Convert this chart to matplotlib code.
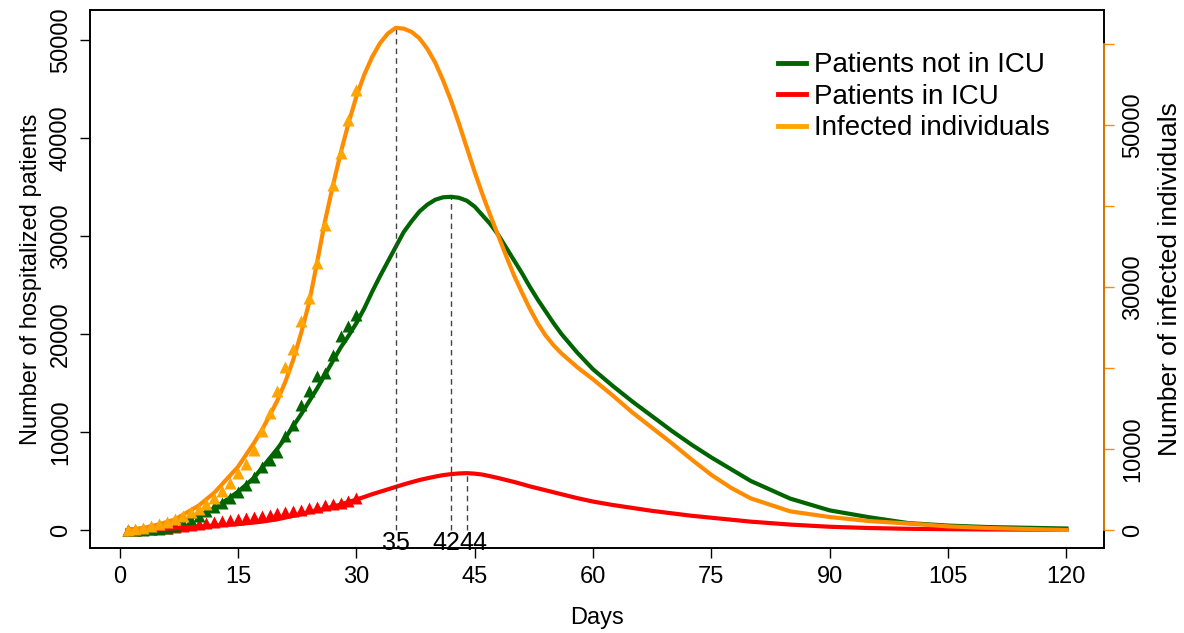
import matplotlib
matplotlib.use('Agg')
import matplotlib.pyplot as plt
from matplotlib.lines import Line2D

plt.rcParams['font.family'] = ['Liberation Sans', 'DejaVu Sans']

# fitted curves
days_fit = [1, 3, 5, 7, 10, 12, 15, 17, 18, 19,
            20, 21, 22, 23, 24, 25, 26, 27, 28, 29,
            30, 31, 32, 33, 34, 35, 36, 37, 38, 39,
            40, 41, 42, 43, 44, 45, 46, 47, 48, 49,
            50, 51, 52, 53, 54, 55, 56, 58, 60, 62.5,
            65, 67.5, 70, 72.5, 75, 77.5, 80, 85, 90, 95,
            100, 105, 110, 120]
green_fit = [0, 150, 400, 750, 1500, 2200, 3900, 5300, 6300, 7300,
             8300, 9400, 10600, 11800, 13100, 14400, 15800, 17200, 18600, 19800,
             21100, 22600, 24300, 25900, 27400, 28900, 30400, 31500, 32500, 33200,
             33700, 33950, 34000, 33900, 33600, 33000, 32100, 31200, 30100, 28800,
             27500, 26200, 24800, 23500, 22300, 21100, 20000, 18100, 16400, 14700,
             13100, 11600, 10100, 8700, 7400, 6200, 5000, 3200, 2000, 1300,
             700, 450, 300, 150]
red_fit = [0, 50, 100, 180, 350, 450, 600, 760, 850, 970,
           1100, 1270, 1450, 1620, 1800, 1970, 2150, 2370, 2600, 2850,
           3100, 3370, 3650, 3900, 4150, 4400, 4650, 4880, 5100, 5280,
           5450, 5600, 5700, 5770, 5800, 5750, 5650, 5480, 5300, 5100,
           4900, 4680, 4450, 4250, 4050, 3850, 3650, 3250, 2900, 2550,
           2250, 1950, 1700, 1450, 1250, 1050, 850, 550, 330, 200,
           120, 80, 50, 20]
orange_fit = [0, 250, 700, 1300, 3000, 4600, 7800, 10700, 12300, 14100,
              16000, 18300, 21000, 24300, 28000, 32900, 38000, 42400, 46500, 50200,
              53500, 56200, 58400, 60100, 61300, 62000, 61900, 61500, 60700, 59400,
              57700, 55500, 53000, 50200, 47200, 44200, 41400, 38800, 36300, 33800,
              31400, 29300, 27300, 25500, 24000, 22800, 21800, 20100, 18600, 16600,
              14500, 12600, 10700, 8700, 6800, 5200, 3900, 2300, 1600, 1100,
              800, 450, 250, 0]

# observed data, days 1..30
days_obs = list(range(1, 31))
green_obs = [0, 0, 30, 80, 150, 250, 450, 750, 1050, 1400, 1900, 2350, 2800, 3300, 3900,
             4600, 5400, 6400, 7100, 8000, 9600, 10700, 12800, 14200, 15700, 16000, 17900,
             19800, 20800, 21900]
red_obs = [0, 30, 70, 120, 180, 250, 330, 420, 510, 620, 720, 820, 920, 1020, 1120, 1230,
           1340, 1450, 1560, 1700, 1820, 1950, 2070, 2200, 2350, 2500, 2650, 2800, 3000, 3250]
orange_obs = [0, 120, 250, 500, 740, 1000, 1360, 1730, 2230, 2600, 3200, 3960, 4830, 5820,
              7060, 8180, 9900, 12270, 14500, 17100, 20070, 22300, 25800, 28600, 33000,
              37700, 42600, 46600, 50600, 54300]

peak_days = [35, 42, 44]

GREEN = '#006400'
RED = '#FF0000'
DORANGE = '#FF8C00'
ORANGE = '#FFA500'

fig = plt.figure(figsize=(11.84, 6.33), dpi=100)
ax = fig.add_axes([0.0760, 0.1343, 0.8564, 0.8499])
ax2 = ax.twinx()

ax.plot(days_obs, red_obs, '^', color=RED, ms=9, mec='none', zorder=2)
ax.plot(days_obs, green_obs, '^', color=GREEN, ms=9, mec='none', zorder=2)
ax.plot(days_fit, red_fit, color=RED, lw=3, zorder=3, solid_joinstyle='round')
ax.plot(days_fit, green_fit, color=GREEN, lw=3, zorder=3, solid_joinstyle='round')

ax2.plot(days_fit, orange_fit, color=DORANGE, lw=3, zorder=3, solid_joinstyle='round')
ax2.plot(days_obs, orange_obs, '^', color=ORANGE, ms=9, mec='none', zorder=4)

# peak markers
ax2.plot([35, 35], [0, max(orange_fit)], ls=(0, (4, 3)), color='#444444', lw=1)
ax.plot([42, 42], [0, max(green_fit)], ls=(0, (4, 3)), color='#444444', lw=1)
ax.plot([44, 44], [0, max(red_fit)], ls=(0, (4, 3)), color='#444444', lw=1)
for d, dx in zip(peak_days, [0, -3.5, 4.5]):
    ax.annotate(str(d), xy=(d, 0), xytext=(dx, -1), textcoords='offset points',
                ha='center', va='top', fontsize=18)

ax.set_xlim(-3.76, 124.76)
ax.set_ylim(-1837, 53060)
ax2.set_ylim(-2222, 64200)

ax.set_xticks(range(0, 121, 15))
ax.set_yticks(range(0, 50001, 10000))
ax2.set_yticks(range(0, 60001, 10000))
ax2.set_yticklabels(['0', '10000', '', '30000', '', '50000', ''])

ax.tick_params(direction='out', length=7, width=1, labelsize=17, pad=6)
ax2.tick_params(direction='out', length=7, width=1, labelsize=17, pad=6,
                color=DORANGE, labelcolor='black')
for lbl in ax.get_yticklabels():
    lbl.set_rotation(90)
    lbl.set_va('center')
for lbl in ax2.get_yticklabels():
    lbl.set_rotation(90)
    lbl.set_va('center')

for sp in ax2.spines.values():
    sp.set_linewidth(1.2)
for sp in ax.spines.values():
    sp.set_linewidth(1.2)
ax2.plot([1, 1], [0, 60000], transform=ax2.get_yaxis_transform(), clip_on=False,
         color=DORANGE, lw=1.2, zorder=5)

ax.set_xlabel('Days', fontsize=17, labelpad=14)
ax.set_ylabel('Number of hospitalized patients', fontsize=17, labelpad=6)
ax2.set_ylabel('Number of infected individuals', fontsize=19, labelpad=10)

handles = [Line2D([], [], color=GREEN, lw=3.5),
           Line2D([], [], color=RED, lw=3.5),
           Line2D([], [], color=ORANGE, lw=3.5)]
fig.legend(handles, ['Patients not in ICU', 'Patients in ICU', 'Infected individuals'],
           loc='upper left', bbox_to_anchor=(0.648, 0.935), frameon=False,
           fontsize=20, handlelength=1.0, handletextpad=0.3, labelspacing=0.2,
           borderaxespad=0)

fig.savefig('out.png', dpi=100)
